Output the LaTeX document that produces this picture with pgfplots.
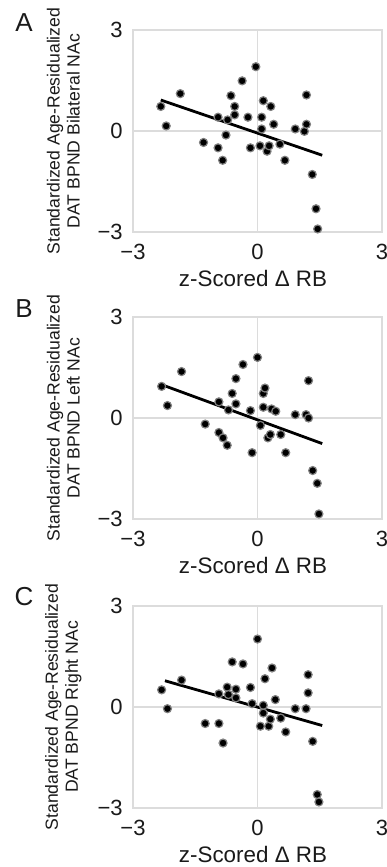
\documentclass[border=0pt]{standalone}
\usepackage{pgfplots}
\pgfplotsset{compat=1.18}
\usepackage{fontspec}
\setmainfont{Liberation Sans}
\definecolor{gridgray}{HTML}{DCDCDC}
\definecolor{txt}{HTML}{1A1A1A}
\pgfplotsset{
  panel/.style={
    scale only axis,
    width=124.5pt, height=101pt,
    anchor=south west,
    xmin=-3, xmax=3, ymin=-3, ymax=3,
    xtick={-3,0,3}, ytick={-3,0,3},
    xticklabels={−3,0,3}, yticklabels={−3,0,3},
    grid=major,
    major grid style={gridgray, line width=0.8pt},
    axis line style={gridgray, line width=0.8pt},
    major tick length=0pt,
    tick label style={font=\fontsize{11}{12}\selectfont, inner sep=0pt, text=txt},
    xticklabel style={yshift=-6pt},
    yticklabel style={xshift=-5pt},
    xlabel={z-Scored Δ RB},
    xlabel style={font=\fontsize{11.2}{12}\selectfont, text=txt, at={(axis description cs:0.482,-0.228)}, anchor=center},
    ylabel style={font=\fontsize{8.8}{10}\selectfont, text=txt, align=center, at={(axis description cs:-0.28,0.5)}, anchor=center},
    clip=false,
  },
  pts/.style={only marks, mark=*, mark size=2pt, mark options={fill=black, draw=black!50, line width=0.6pt}},
  fit/.style={black, line width=1.4pt, no marks},
}
\begin{document}
\begin{tikzpicture}
\useasboundingbox (0,0) rectangle (193pt,-433.5pt);
% Panel A
\begin{axis}[panel, at={(66.5pt,-116pt)}, ylabel={Standardized Age-Residualized\\DAT BPND Bilateral NAc}]
\addplot[pts] coordinates {
(-2.33,0.73) (-2.20,0.15) (-1.86,1.11) (-1.30,-0.34) (-0.95,-0.50) (-0.95,0.41)
(-0.84,-0.87) (-0.76,-0.12) (-0.72,0.33) (-0.64,1.05) (-0.55,0.48) (-0.55,0.73)
(-0.37,1.49) (-0.23,0.41) (-0.17,-0.50) (-0.04,1.91) (0.06,-0.44) (0.10,0.41)
(0.10,0.06) (0.14,0.90) (0.23,-0.60) (0.28,-0.44) (0.32,0.73) (0.39,0.20)
(0.54,-0.39) (0.66,-0.87) (0.91,0.06) (1.13,-0.01) (1.18,1.07) (1.18,0.20)
(1.32,-1.29) (1.41,-2.31) (1.45,-2.91)
};
\addplot[fit] coordinates {(-2.33,0.92) (1.56,-0.72)};
\end{axis}
% Panel B
\begin{axis}[panel, at={(66.5pt,-259.5pt)}, ylabel={Standardized Age-Residualized\\DAT BPND Left NAc}]
\addplot[pts] coordinates {
(-2.31,0.94) (-2.17,0.37) (-1.83,1.38) (-1.26,-0.18) (-0.93,-0.43) (-0.93,0.48)
(-0.83,-0.59) (-0.73,-0.81) (-0.70,0.24) (-0.61,0.73) (-0.52,1.17) (-0.52,0.42)
(-0.35,1.59) (-0.17,0.22) (-0.13,-1.03) (0.00,1.80) (0.07,-0.22) (0.14,0.73)
(0.18,0.89) (0.14,0.32) (0.25,-0.59) (0.31,-0.49) (0.34,0.27) (0.44,0.20)
(0.56,-0.49) (0.68,-1.03) (0.91,0.10) (1.17,0.10) (1.23,0.00) (1.23,1.11)
(1.33,-1.56) (1.44,-1.94) (1.48,-2.85)
};
\addplot[fit] coordinates {(-2.31,0.99) (1.56,-0.76)};
\end{axis}
% Panel C
\begin{axis}[panel, at={(66.5pt,-404pt)}, ylabel={Standardized Age-Residualized\\DAT BPND Right NAc}]
\addplot[pts] coordinates {
(-2.31,0.51) (-2.17,-0.05) (-1.83,0.80) (-1.26,-0.49) (-0.93,-0.49) (-0.93,0.39)
(-0.83,-1.07) (-0.73,0.59) (-0.70,0.37) (-0.61,1.34) (-0.52,0.53) (-0.52,0.27)
(-0.35,1.28) (-0.17,0.58) (-0.13,0.10) (0.00,2.02) (0.07,-0.57) (0.14,0.05)
(0.14,-0.18) (0.18,0.84) (0.27,-0.57) (0.31,-0.36) (0.35,1.16) (0.43,0.22)
(0.56,-0.33) (0.68,-0.74) (0.91,-0.05) (1.17,-0.05) (1.22,0.42) (1.22,0.96)
(1.33,-1.02) (1.44,-2.60) (1.48,-2.82)
};
\addplot[fit] coordinates {(-2.23,0.78) (1.56,-0.55)};
\end{axis}
\node[font=\fontsize{13}{14}\selectfont, text=txt] at (12pt,-11.5pt) {A};
\node[font=\fontsize{13}{14}\selectfont, text=txt] at (12pt,-154.5pt) {B};
\node[font=\fontsize{13}{14}\selectfont, text=txt] at (12pt,-298.5pt) {C};
\end{tikzpicture}
\end{document}
